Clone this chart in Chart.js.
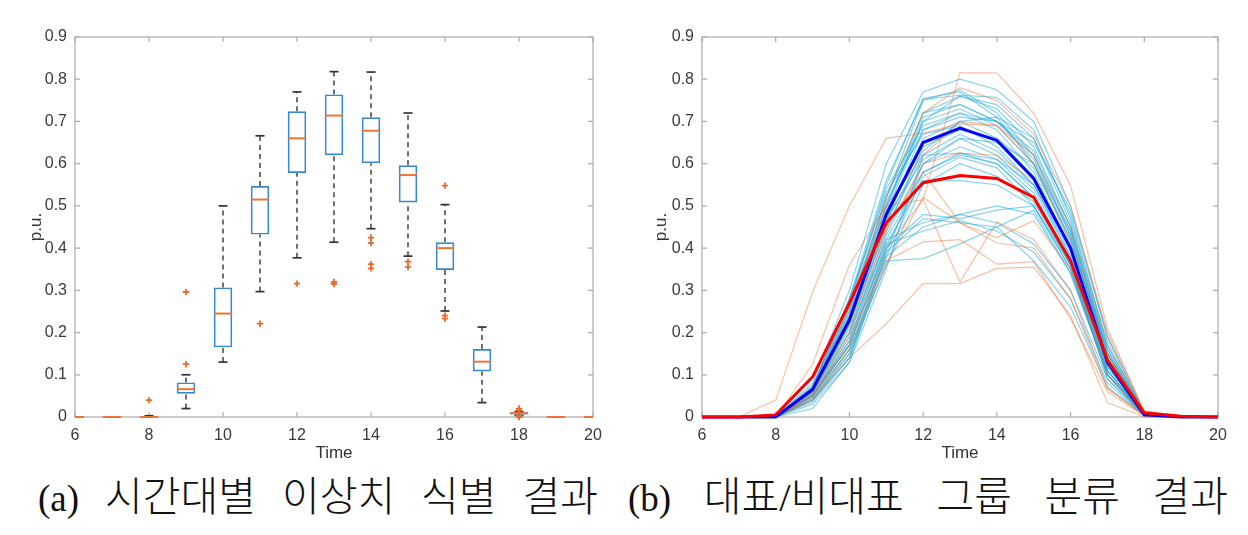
<!DOCTYPE html>
<html>
<head>
<meta charset="utf-8">
<script src="https://cdn.jsdelivr.net/npm/chart.js@4.4.1/dist/chart.umd.min.js"></script>
<style>
  body { margin: 0; background: #fff; width: 1248px; height: 535px; overflow: hidden; position: relative; }
  .panel { position: absolute; top: 0; height: 470px; }
  .caption {
    position: absolute; top: 472px; height: 50px; line-height: 50px;
    font-family: "Liberation Serif", "Noto Sans CJK KR", serif;
    font-size: 41px; font-weight: 300; color: #111;
    text-align: justify; text-align-last: justify; white-space: nowrap;
  }
  .caption .lab { font-size: 37px; }
</style>
</head>
<body>
<div class="panel" style="left:0;width:620px"><canvas id="boxChart"></canvas></div>
<div class="panel" style="left:630px;width:618px"><canvas id="lineChart"></canvas></div>
<div class="caption" style="left:38px;width:560px"><span class="lab">(a)</span> 시간대별 이상치 식별 결과</div>
<div class="caption" style="left:628px;width:600px"><span class="lab">(b)</span> 대표/비대표 그룹 분류 결과</div>
<script>
// hours shown on both panels
const hours = [6, 7, 8, 9, 10, 11, 12, 13, 14, 15, 16, 17, 18, 19, 20];

// (a) box plot statistics per hour
const q1     = [0, 0, 0,     0.055, 0.165, 0.432, 0.578, 0.620, 0.601, 0.508, 0.348, 0.108, 0.006, 0, 0];
const median = [0, 0, 0,     0.066, 0.245, 0.515, 0.660, 0.714, 0.678, 0.573, 0.400, 0.131, 0.009, 0, 0];
const q3     = [0, 0, 0.002, 0.082, 0.307, 0.547, 0.724, 0.764, 0.710, 0.596, 0.414, 0.161, 0.011, 0, 0];
const whLow  = [0, 0, 0,     0.020, 0.130, 0.297, 0.377, 0.414, 0.446, 0.381, 0.251, 0.034, 0.004, 0, 0];
const whHigh = [0, 0, 0.003, 0.100, 0.500, 0.666, 0.770, 0.818, 0.817, 0.720, 0.503, 0.213, 0.013, 0, 0];

// (a) outliers
const outHours = [8, 9, 9, 11, 12, 13, 13, 14, 14, 14, 14, 15, 15, 16, 16, 16, 18, 18, 18, 18];
const outVals  = [0.040, 0.125, 0.296, 0.221, 0.316, 0.320, 0.315, 0.425, 0.412, 0.362, 0.352,
                  0.368, 0.355, 0.548, 0.240, 0.233, 0.020, 0.016, 0.003, 0.000];

// (b) representative profiles (cyan)
const cyanProfiles = [
  [0, 0, 0, 0.080, 0.30, 0.60, 0.770, 0.800, 0.775, 0.70, 0.50, 0.19, 0.010, 0, 0],
  [0, 0, 0, 0.070, 0.28, 0.56, 0.752, 0.762, 0.757, 0.68, 0.47, 0.17, 0.010, 0, 0],
  [0, 0, 0, 0.075, 0.27, 0.55, 0.755, 0.770, 0.710, 0.60, 0.42, 0.15, 0.008, 0, 0],
  [0, 0, 0, 0.060, 0.25, 0.52, 0.750, 0.775, 0.720, 0.62, 0.44, 0.15, 0.008, 0, 0],
  [0, 0, 0, 0.070, 0.26, 0.50, 0.720, 0.760, 0.740, 0.66, 0.46, 0.16, 0.010, 0, 0],
  [0, 0, 0, 0.065, 0.24, 0.49, 0.710, 0.740, 0.700, 0.62, 0.43, 0.14, 0.008, 0, 0],
  [0, 0, 0, 0.060, 0.22, 0.48, 0.700, 0.730, 0.690, 0.60, 0.41, 0.13, 0.007, 0, 0],
  [0, 0, 0, 0.065, 0.25, 0.51, 0.680, 0.720, 0.680, 0.58, 0.40, 0.13, 0.007, 0, 0],
  [0, 0, 0, 0.055, 0.20, 0.46, 0.680, 0.710, 0.700, 0.63, 0.45, 0.16, 0.009, 0, 0],
  [0, 0, 0, 0.060, 0.23, 0.47, 0.660, 0.700, 0.660, 0.57, 0.40, 0.12, 0.006, 0, 0],
  [0, 0, 0, 0.070, 0.28, 0.53, 0.670, 0.690, 0.640, 0.55, 0.38, 0.12, 0.006, 0, 0],
  [0, 0, 0, 0.050, 0.19, 0.44, 0.640, 0.680, 0.660, 0.59, 0.42, 0.14, 0.008, 0, 0],
  [0, 0, 0, 0.060, 0.21, 0.45, 0.620, 0.670, 0.630, 0.55, 0.39, 0.12, 0.006, 0, 0],
  [0, 0, 0, 0.055, 0.22, 0.47, 0.610, 0.660, 0.620, 0.54, 0.38, 0.11, 0.006, 0, 0],
  [0, 0, 0, 0.050, 0.18, 0.43, 0.600, 0.640, 0.610, 0.53, 0.37, 0.11, 0.005, 0, 0],
  [0, 0, 0, 0.060, 0.20, 0.42, 0.580, 0.625, 0.610, 0.55, 0.40, 0.13, 0.007, 0, 0],
  [0, 0, 0, 0.050, 0.17, 0.40, 0.580, 0.620, 0.600, 0.52, 0.36, 0.10, 0.005, 0, 0],
  [0, 0, 0, 0.045, 0.16, 0.38, 0.570, 0.615, 0.590, 0.50, 0.35, 0.10, 0.005, 0, 0],
  [0, 0, 0, 0.040, 0.15, 0.36, 0.550, 0.600, 0.570, 0.51, 0.36, 0.11, 0.005, 0, 0],
  [0, 0, 0, 0.050, 0.17, 0.41, 0.560, 0.560, 0.550, 0.50, 0.35, 0.10, 0.005, 0, 0],
  [0, 0, 0, 0.040, 0.14, 0.40, 0.480, 0.470, 0.490, 0.50, 0.36, 0.11, 0.005, 0, 0],
  [0, 0, 0, 0.050, 0.18, 0.42, 0.460, 0.480, 0.500, 0.48, 0.34, 0.10, 0.005, 0, 0],
  [0, 0, 0, 0.040, 0.15, 0.38, 0.450, 0.480, 0.460, 0.41, 0.30, 0.09, 0.004, 0, 0],
  [0, 0, 0, 0.035, 0.14, 0.37, 0.375, 0.410, 0.450, 0.49, 0.34, 0.10, 0.005, 0, 0],
  [0, 0, 0, 0.050, 0.17, 0.41, 0.440, 0.465, 0.440, 0.39, 0.28, 0.08, 0.004, 0, 0],
  [0, 0, 0, 0.045, 0.16, 0.39, 0.470, 0.460, 0.450, 0.37, 0.26, 0.07, 0.004, 0, 0],
  [0, 0, 0, 0.065, 0.24, 0.50, 0.700, 0.760, 0.730, 0.64, 0.45, 0.15, 0.008, 0, 0],
  [0, 0, 0, 0.060, 0.26, 0.52, 0.720, 0.740, 0.700, 0.61, 0.43, 0.14, 0.007, 0, 0],
  [0, 0, 0, 0.070, 0.27, 0.54, 0.690, 0.720, 0.700, 0.65, 0.49, 0.19, 0.010, 0, 0],
  [0, 0, 0, 0.030, 0.13, 0.39, 0.600, 0.660, 0.650, 0.60, 0.44, 0.15, 0.008, 0, 0],
  [0, 0, 0, 0.020, 0.13, 0.35, 0.620, 0.625, 0.600, 0.52, 0.36, 0.09, 0.004, 0, 0],
  [0, 0, 0, 0.060, 0.22, 0.46, 0.630, 0.700, 0.710, 0.66, 0.48, 0.17, 0.009, 0, 0]
];

// (b) non-representative profiles (orange)
const orangeProfiles = [
  [0, 0, 0.04, 0.296, 0.50, 0.66, 0.672, 0.695, 0.690, 0.62, 0.45, 0.18, 0.005, 0, 0],
  [0, 0, 0,    0.050, 0.17, 0.40, 0.515, 0.815, 0.815, 0.72, 0.548, 0.21, 0.012, 0, 0],
  [0, 0, 0,    0.125, 0.36, 0.50, 0.515, 0.320, 0.462, 0.42, 0.30, 0.07, 0.003, 0, 0],
  [0, 0, 0,    0.040, 0.14, 0.221, 0.316, 0.316, 0.352, 0.355, 0.24, 0.034, 0, 0, 0],
  [0, 0, 0,    0.050, 0.19, 0.37, 0.415, 0.420, 0.362, 0.368, 0.233, 0.06, 0.002, 0, 0],
  [0, 0, 0,    0.060, 0.22, 0.45, 0.580, 0.460, 0.425, 0.465, 0.35, 0.10, 0.005, 0, 0],
  [0, 0, 0,    0.070, 0.26, 0.52, 0.720, 0.780, 0.750, 0.67, 0.50, 0.20, 0.015, 0, 0],
  [0, 0, 0,    0.060, 0.24, 0.50, 0.620, 0.700, 0.690, 0.60, 0.42, 0.15, 0.008, 0, 0],
  [0, 0, 0,    0.050, 0.20, 0.44, 0.600, 0.625, 0.620, 0.56, 0.40, 0.14, 0.007, 0, 0],
  [0, 0, 0,    0.040, 0.16, 0.36, 0.520, 0.460, 0.412, 0.40, 0.28, 0.066, 0.004, 0, 0]
];

// (b) group centres
const blueMean = [0, 0, 0,     0.065, 0.23, 0.48, 0.650, 0.684, 0.655, 0.565, 0.40, 0.130, 0.005, 0, 0];
const redMean  = [0, 0, 0.005, 0.095, 0.27, 0.46, 0.555, 0.572, 0.565, 0.520, 0.37, 0.135, 0.010, 0.002, 0];

const yTicks = [0, 0.1, 0.2, 0.3, 0.4, 0.5, 0.6, 0.7, 0.8, 0.9];

Chart.defaults.font.family = '"Liberation Sans", Arial, sans-serif';
Chart.defaults.animation = false;

// matlab style axes box with inward ticks
const framePlugin = {
  id: 'frame',
  beforeDatasetsDraw(chart) {
    const { ctx, chartArea: a, scales: { x, y } } = chart;
    ctx.save();
    ctx.strokeStyle = '#ababab';
    ctx.lineWidth = 1.2;
    ctx.strokeRect(a.left, a.top, a.right - a.left, a.bottom - a.top);
    ctx.beginPath();
    x.ticks.forEach(t => {
      const px = x.getPixelForValue(t.value);
      ctx.moveTo(px, a.bottom); ctx.lineTo(px, a.bottom - 5);
      ctx.moveTo(px, a.top); ctx.lineTo(px, a.top + 5);
    });
    y.ticks.forEach(t => {
      const py = y.getPixelForValue(t.value);
      ctx.moveTo(a.left, py); ctx.lineTo(a.left + 5, py);
      ctx.moveTo(a.right, py); ctx.lineTo(a.right - 5, py);
    });
    ctx.stroke();
    ctx.restore();
  }
};

function axes(yWidth) {
  return {
    x: {
      type: 'linear', min: 6, max: 20, offset: false,
      grid: { display: false, drawTicks: false }, border: { display: false },
      ticks: { stepSize: 2, color: '#3a3a3a', font: { size: 16 }, padding: 9 },
      title: { display: true, text: 'Time', color: '#333', font: { size: 17 }, padding: { top: 0, bottom: 6 } },
      afterFit: s => { s.height = 53; }
    },
    y: {
      type: 'linear', min: 0, max: 0.9,
      grid: { display: false, drawTicks: false }, border: { display: false },
      afterBuildTicks: s => { s.ticks = yTicks.map(v => ({ value: v })); },
      ticks: {
        color: '#3a3a3a', font: { size: 16 }, padding: 8,
        callback: v => (v === 0 ? '0' : v.toFixed(1))
      },
      title: { display: true, text: 'p.u.', color: '#333', font: { size: 17 }, padding: { top: 4, bottom: 4 } },
      afterFit: s => { s.width = yWidth; }
    }
  };
}

const commonPlugins = { legend: { display: false }, tooltip: { enabled: false } };

// ---- (a) box plot ----
const whiskerPts = [];
hours.forEach((h, i) => {
  whiskerPts.push({ x: h, y: q3[i] }, { x: h, y: whHigh[i] }, { x: h, y: null });
  whiskerPts.push({ x: h, y: whLow[i] }, { x: h, y: q1[i] }, { x: h, y: null });
});
const capPts = [];
hours.forEach((h, i) => {
  capPts.push({ x: h, y: whHigh[i] }, { x: h, y: whLow[i] });
});

new Chart(document.getElementById('boxChart'), {
  type: 'scatter',
  data: {
    datasets: [
      {
        type: 'line', data: whiskerPts, order: 5,
        borderColor: '#333', borderWidth: 1.4, borderDash: [5, 4],
        pointRadius: 0, spanGaps: false, clip: 0
      },
      {
        data: capPts, order: 4,
        pointStyle: 'line', pointRadius: 4.5, borderColor: '#333', borderWidth: 1.7,
        clip: { left: 0, right: 0, top: 5, bottom: 5 }
      },
      {
        type: 'bar', order: 3,
        data: hours.map((h, i) => ({ x: h, y: [q1[i], q3[i]] })),
        backgroundColor: 'rgba(0,0,0,0)', borderColor: '#3389d6', borderWidth: 1.7,
        borderSkipped: false, barPercentage: 0.5, categoryPercentage: 1,
        clip: { left: 0, right: 0, top: 5, bottom: 5 }
      },
      {
        data: hours.map((h, i) => ({ x: h, y: median[i] })), order: 2,
        pointStyle: 'line', pointRadius: 9.2, borderColor: '#ee7433', borderWidth: 2,
        clip: { left: 0, right: 0, top: 5, bottom: 5 }
      },
      {
        data: outHours.map((h, i) => ({ x: h, y: outVals[i] })), order: 1,
        pointStyle: 'cross', pointRadius: 3.2, borderColor: '#ec6a2c', borderWidth: 1.8,
        clip: { left: 0, right: 0, top: 5, bottom: 5 }
      }
    ]
  },
  options: {
    responsive: true, maintainAspectRatio: false,
    layout: { padding: { left: 22, right: 27, top: 37, bottom: 0 } },
    scales: axes(53),
    plugins: commonPlugins
  },
  plugins: [framePlugin]
});

// ---- (b) grouped profiles ----
const toPts = vals => hours.map((h, i) => ({ x: h, y: vals[i] }));
const lineSets = [];
cyanProfiles.forEach(p => lineSets.push({
  data: toPts(p), order: 4, borderColor: 'rgba(18,168,224,0.5)', borderWidth: 1.2
}));
orangeProfiles.forEach(p => lineSets.push({
  data: toPts(p), order: 3, borderColor: 'rgba(236,112,52,0.45)', borderWidth: 1.2
}));
lineSets.push({ data: toPts(blueMean), order: 2, borderColor: '#0000ff', borderWidth: 3 });
lineSets.push({ data: toPts(redMean), order: 1, borderColor: '#ff0000', borderWidth: 3 });
lineSets.forEach(d => { d.pointRadius = 0; d.tension = 0; d.clip = { left: 0, right: 0, top: 5, bottom: 5 }; });

new Chart(document.getElementById('lineChart'), {
  type: 'line',
  data: { datasets: lineSets },
  options: {
    responsive: true, maintainAspectRatio: false,
    layout: { padding: { left: 17, right: 30, top: 37, bottom: 0 } },
    scales: axes(55),
    plugins: commonPlugins
  },
  plugins: [framePlugin]
});
</script>
</body>
</html>
